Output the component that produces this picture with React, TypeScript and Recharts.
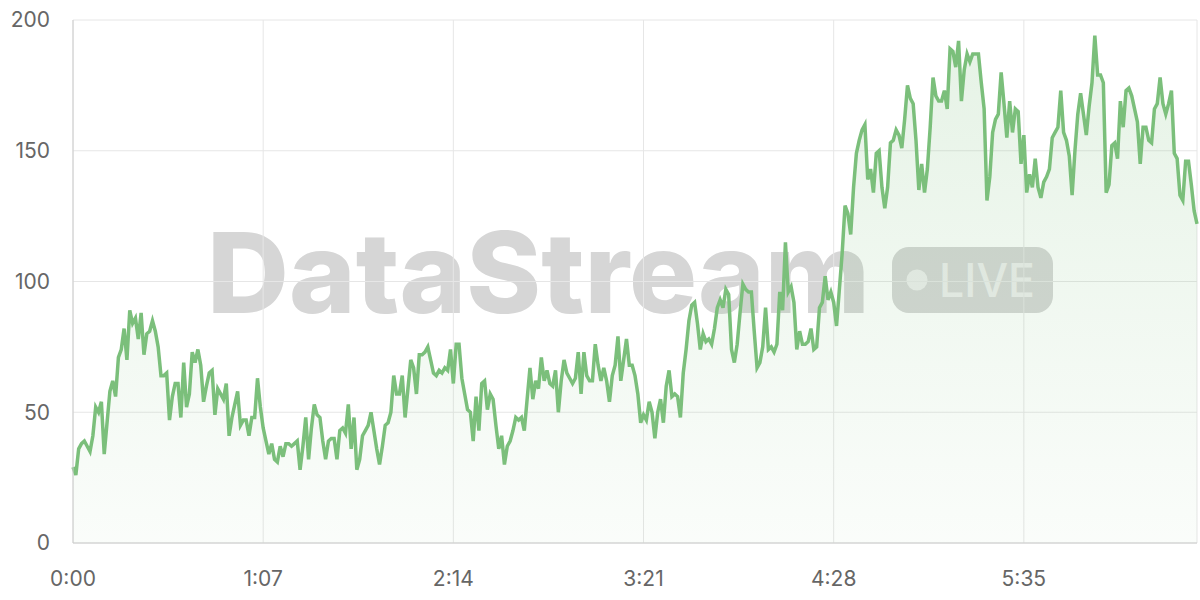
import { AreaChart, Area, XAxis, YAxis, CartesianGrid } from 'recharts'

// one reading per second, 0:00 .. 6:36
const firstMinute = [
  29, 26, 36, 38, 39, 37, 35, 41, 52, 50, 54, 34, 46, 58, 62, 56, 71, 74, 82, 70,
  89, 84, 86, 78, 88, 72, 80, 81, 85, 81, 75, 64, 64, 65, 47, 56, 61, 61, 48, 69,
  52, 57, 73, 69, 74, 68, 54, 60, 65, 66, 49, 59, 57, 55, 61, 41, 48, 53, 58, 45,
  47, 47, 41, 48, 48, 63, 52
]
const secondMinute = [
  44, 39, 34, 38, 32, 31, 37, 33, 38, 38, 37, 38, 39, 28, 37, 48, 32, 44, 53, 49,
  48, 39, 32, 39, 40, 40, 32, 43, 44, 42, 53, 36, 48, 28, 32, 41, 43, 45, 50, 43,
  36, 30, 37, 45, 46, 50, 64, 57, 57, 64, 48, 59, 70, 67, 57, 72, 72, 73, 75, 70,
  65, 64, 66, 65, 67, 66, 74
]
const thirdMinute = [
  61, 76, 76, 63, 57, 51, 50, 39, 56, 43, 61, 62, 51, 57, 55, 45, 36, 41, 30, 37,
  39, 43, 48, 47, 48, 43, 55, 67, 55, 62, 59, 71, 62, 66, 61, 60, 66, 50, 62, 70,
  65, 63, 61, 63, 73, 57, 73, 64, 62, 62, 76, 68, 62, 67, 62, 54, 64, 68, 79, 62,
  70, 78, 68, 68, 64, 57, 46
]
const fourthMinute = [
  49, 47, 54, 50, 40, 50, 55, 46, 60, 66, 56, 57, 56, 48, 65, 74, 85, 91, 92, 84,
  74, 80, 77, 78, 76, 82, 90, 93, 90, 97, 95, 74, 69, 76, 88, 99, 97, 96, 96, 81,
  67, 69, 75, 90, 74, 75, 73, 76, 96, 89, 115, 96, 98, 92, 74, 81, 76, 76, 77, 82,
  74, 75, 90, 92, 102, 93, 96
]
const fifthMinute = [
  92, 83, 97, 111, 129, 126, 118, 136, 149, 154, 158, 160, 139, 143, 134, 149, 150, 136, 128, 136,
  153, 154, 158, 156, 151, 162, 175, 170, 168, 154, 135, 145, 134, 143, 159, 178, 171, 169, 169, 173,
  166, 189, 188, 182, 192, 169, 181, 187, 184, 187, 187, 187, 176, 166, 131, 140, 157, 162, 164, 180,
  168, 155, 169, 157, 166, 165, 145
]
const sixthMinute = [
  156, 134, 141, 136, 147, 136, 132, 138, 140, 143, 155, 157, 159, 173, 157, 154, 148, 133, 150, 164,
  172, 164, 156, 167, 176, 194, 179, 179, 176, 134, 137, 152, 153, 147, 169, 159, 173, 174, 171, 166,
  161, 145, 159, 159, 154, 153, 166, 168, 178, 168, 164, 168, 173, 149, 147, 133, 131, 146, 146, 137,
  127, 122
]

const viewers = [...firstMinute, ...secondMinute, ...thirdMinute, ...fourthMinute, ...fifthMinute, ...sixthMinute]
const tickSeconds = [0, 67, 134, 201, 268, 335]
const yTicks = [0, 50, 100, 150, 200]

const data = viewers.map((v, i) => ({ t: i, value: v }))

const fmt = (s: number) => `${Math.floor(s / 60)}:${String(s % 60).padStart(2, '0')}`

const FONT = "Inter, 'Liberation Sans', Arial, sans-serif"
const GREEN = '#7bbf7b'

function Watermark() {
  return (
    <svg width={1200} height={600} style={{ position: 'absolute', left: 0, top: 0 }}>
      <text
        x={207}
        y={313}
        fontSize={112}
        fontWeight={800}
        fontFamily={FONT}
        fill='#d6d6d6'
        textLength={663}
        lengthAdjust='spacingAndGlyphs'
      >
        DataStream
      </text>
      <rect x={892} y={247} width={161} height={66} rx={17} fill='#d6d6d6' />
      <circle cx={917} cy={280} r={10.5} fill='#ededed' />
      <text
        x={939}
        y={297}
        fontSize={47}
        fontWeight={500}
        fontFamily={FONT}
        fill='#ededed'
        textLength={96}
        lengthAdjust='spacingAndGlyphs'
      >
        LIVE
      </text>
    </svg>
  )
}

export default function App() {
  return (
    <div style={{ position: 'relative', width: 1200, height: 600, background: '#fff' }}>
      <style>{`body{margin:0}`}</style>
      <Watermark />
      <div style={{ position: 'absolute', left: 0, top: 0 }}>
        <AreaChart width={1200} height={600} data={data} margin={{ top: 20, right: 3, left: 0, bottom: 27 }}>
          <defs>
            <linearGradient id='fillGreen' x1='0' y1='0' x2='0' y2='1'>
              <stop offset='0%' stopColor={GREEN} stopOpacity={0.32} />
              <stop offset='100%' stopColor={GREEN} stopOpacity={0.06} />
            </linearGradient>
          </defs>
          <CartesianGrid stroke='#e6e6e6' />
          <XAxis
            dataKey='t'
            type='number'
            domain={[0, 396]}
            ticks={tickSeconds}
            tickFormatter={fmt}
            stroke='#cccccc'
            tickLine={false}
            tickSize={0}
            tickMargin={28}
            tick={{ fill: '#666', fontSize: 21, fontFamily: FONT }}
          />
          <YAxis
            width={73}
            domain={[0, 200]}
            ticks={yTicks}
            stroke='#cccccc'
            tickLine={false}
            tickSize={0}
            tickMargin={23}
            tick={{ fill: '#666', fontSize: 21, fontFamily: FONT }}
          />
          <Area
            type='linear'
            dataKey='value'
            stroke={GREEN}
            strokeWidth={3.5}
            fill='url(#fillGreen)'
            isAnimationActive={false}
            dot={false}
            activeDot={false}
          />
        </AreaChart>
      </div>
    </div>
  )
}
